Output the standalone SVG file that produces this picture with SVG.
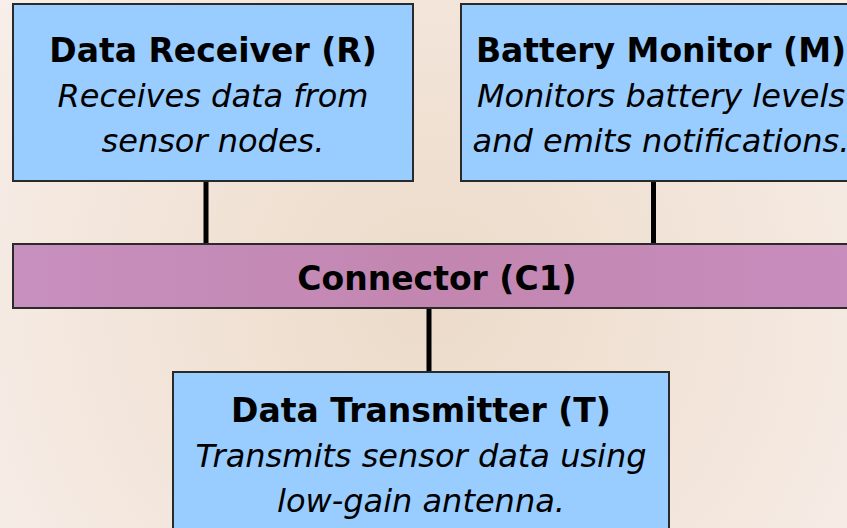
<svg xmlns="http://www.w3.org/2000/svg" width="847" height="528" viewBox="0 0 847 528">
  <defs>
    <radialGradient id="bg" cx="430" cy="300" r="560" gradientUnits="userSpaceOnUse">
      <stop offset="0" stop-color="#ecdbc9"/>
      <stop offset="0.6" stop-color="#f3e6dc"/>
      <stop offset="1" stop-color="#f8f0ec"/>
    </radialGradient>
    <linearGradient id="bus" x1="0" y1="0" x2="1" y2="0">
      <stop offset="0" stop-color="#c890bf"/>
      <stop offset="0.5" stop-color="#c286b0"/>
      <stop offset="1" stop-color="#c88dbd"/>
    </linearGradient>
    <style>
      .comp { fill: #99ccff; stroke: #2a2a2a; stroke-width: 2; }
      .conn-box { fill: url(#bus); stroke: #2a2a2a; stroke-width: 2; }
      .title { font-family: "DejaVu Sans", Verdana, sans-serif; font-weight: bold; font-size: 33px; fill: #000; text-anchor: middle; }
      .desc { font-family: "DejaVu Sans", Verdana, sans-serif; font-style: italic; font-size: 32px; fill: #000; text-anchor: middle; }
      .link { stroke: #000; stroke-width: 5; fill: none; }
    </style>
  </defs>

  <rect x="0" y="0" width="847" height="528" fill="url(#bg)"/>

  <!-- attachments between components and the connector -->
  <g id="links">
    <line class="link" x1="206" y1="181" x2="206" y2="244"/>
    <line class="link" x1="653.5" y1="181" x2="653.5" y2="244"/>
    <line class="link" x1="429" y1="308" x2="429" y2="372"/>
  </g>

  <g id="receiver">
    <rect class="comp" x="13" y="4" width="400" height="177"/>
    <text class="title" x="213" y="62">Data Receiver (R)</text>
    <text class="desc" x="213" y="107">Receives data from</text>
    <text class="desc" x="213" y="152">sensor nodes.</text>
  </g>

  <g id="monitor">
    <rect class="comp" x="461" y="4" width="400" height="177"/>
    <text class="title" x="661" y="62">Battery Monitor (M)</text>
    <text class="desc" x="661" y="107">Monitors battery levels</text>
    <text class="desc" x="661" y="152">and emits notifications.</text>
  </g>

  <g id="connector">
    <rect class="conn-box" x="13" y="244" width="848" height="64"/>
    <text class="title" x="437" y="290">Connector (C1)</text>
  </g>

  <g id="transmitter">
    <rect class="comp" x="173" y="372" width="496" height="170"/>
    <text class="title" x="421" y="422">Data Transmitter (T)</text>
    <text class="desc" x="421" y="467">Transmits sensor data using</text>
    <text class="desc" x="421" y="512">low-gain antenna.</text>
  </g>
</svg>
